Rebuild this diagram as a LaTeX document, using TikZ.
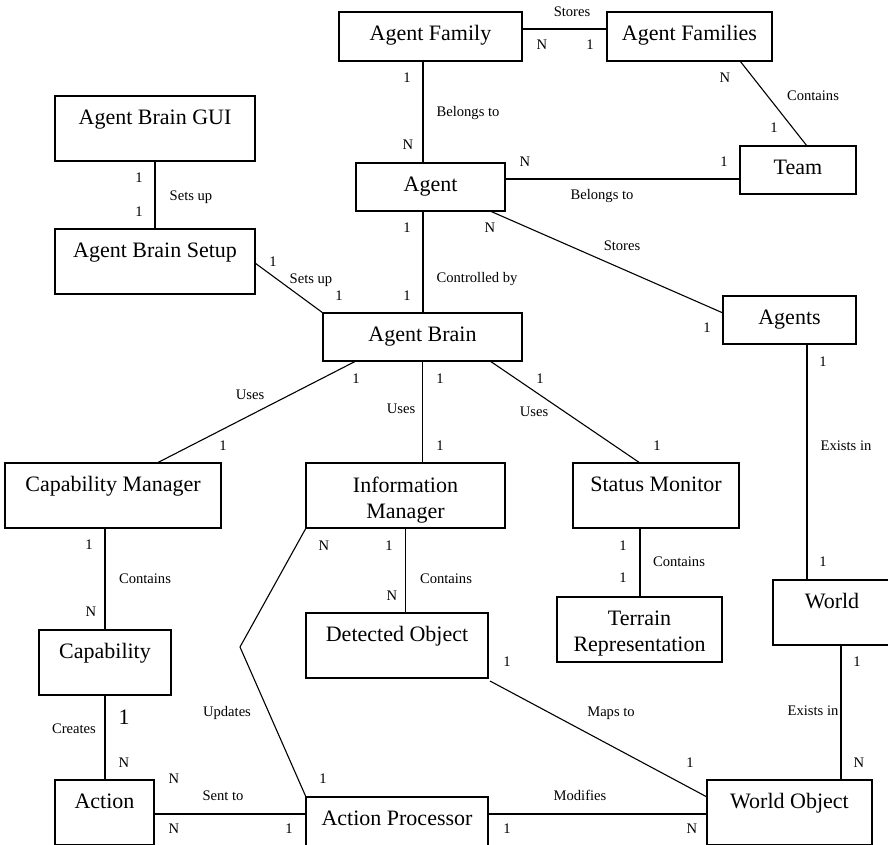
\documentclass[tikz,border=0pt]{standalone}
\usepackage{fontspec}
\setmainfont{Liberation Serif}
\begin{document}
\begin{tikzpicture}[x=1pt,y=-1pt,
  entity/.style={draw, line width=1.1pt, rectangle, anchor=north west,
                 inner sep=0pt, outer sep=0pt},
  etext/.style={anchor=base, inner sep=0pt, font=\fontsize{22}{26}\selectfont},
  etexttwo/.style={anchor=north, inner sep=0pt, align=center,
                   font=\fontsize{22}{26}\selectfont},
  conn/.style={line width=1.1pt},
  lbl/.style={inner sep=0pt, text height=9.6pt, text depth=0pt,
              font=\fontsize{14.6}{17}\selectfont},
  biglbl/.style={inner sep=0pt, text height=14.6pt, text depth=0pt,
              font=\fontsize{22}{26}\selectfont}]

\useasboundingbox (0,0) rectangle (888,845);
\fill[white] (0,0) rectangle (888,845);
\clip (0,0) rectangle (888,845);

% ---------- entities ----------
\node[entity, minimum width=183pt, minimum height=49pt] (af)     at (339,12)  {};
\node[entity, minimum width=165pt, minimum height=49pt] (afs)    at (607,12)  {};
\node[entity, minimum width=149pt, minimum height=48pt] (agent)  at (356,163) {};
\node[entity, minimum width=116pt, minimum height=48pt] (team)   at (740,146) {};
\node[entity, minimum width=133pt, minimum height=48pt] (agents) at (723,296) {};
\node[entity, minimum width=200pt, minimum height=65pt] (gui)    at (55,96)   {};
\node[entity, minimum width=200pt, minimum height=65pt] (setup)  at (55,229)  {};
\node[entity, minimum width=199pt, minimum height=48pt] (brain)  at (323,313) {};
\node[entity, minimum width=216pt, minimum height=65pt] (capm)   at (5,463)   {};
\node[entity, minimum width=199pt, minimum height=65pt] (info)   at (306,463) {};
\node[entity, minimum width=166pt, minimum height=65pt] (status) at (573,463) {};
\node[entity, minimum width=132pt, minimum height=65pt] (capab)  at (39,630)  {};
\node[entity, minimum width=182pt, minimum height=65pt] (det)    at (306,613) {};
\node[entity, minimum width=165pt, minimum height=65pt] (terr)   at (557,597) {};
\node[entity, minimum width=118pt, minimum height=65pt] (world)  at (773,580) {};
\node[entity, minimum width=99pt,  minimum height=65pt] (action) at (55,780)  {};
\node[entity, minimum width=182pt, minimum height=49pt] (proc)   at (306,797) {};
\node[entity, minimum width=165pt, minimum height=65pt] (wobj)   at (707,780) {};

% ---------- entity names ----------
\node[etext] at ([yshift=-28.5pt]af.north)     {Agent Family};
\node[etext] at ([yshift=-28.5pt]afs.north)    {Agent Families};
\node[etext] at ([yshift=-28.5pt]agent.north)  {Agent};
\node[etext] at ([yshift=-28.5pt]team.north)   {Team};
\node[etext] at ([yshift=-28.5pt]agents.north) {Agents};
\node[etext] at ([yshift=-28.5pt]gui.north)    {Agent Brain GUI};
\node[etext] at ([yshift=-28.5pt]setup.north)  {Agent Brain Setup};
\node[etext] at ([yshift=-28.5pt]brain.north)  {Agent Brain};
\node[etext] at ([yshift=-28.5pt]capm.north)   {Capability Manager};
\node[etexttwo] at ([yshift=-13.5pt]info.north) {Information\\Manager};
\node[etext] at ([yshift=-28.5pt]status.north) {Status Monitor};
\node[etext] at ([yshift=-28.5pt]capab.north)  {Capability};
\node[etext] at ([yshift=-28.5pt]det.north)    {Detected Object};
\node[etexttwo] at ([yshift=-13.5pt]terr.north) {Terrain\\Representation};
\node[etext] at ([yshift=-28.5pt]world.north)  {World};
\node[etext] at ([yshift=-28.5pt]action.north) {Action};
\node[etext] at ([yshift=-28.5pt]proc.north)   {Action Processor};
\node[etext] at ([yshift=-28.5pt]wobj.north)   {World Object};

% ---------- relationships ----------
\draw[conn] ([yshift=-17pt]af.north east) -- ([yshift=-17pt]af.north east -| afs.west);
\draw[conn] ([xshift=84pt]af.south west) -- ([xshift=84pt]af.south west |- agent.north);
\draw[conn] ([xshift=133pt]afs.south west) -- ([xshift=67pt]team.north west);
\draw[conn] ([yshift=-16pt]agent.north east) -- ([yshift=-16pt]agent.north east -| team.west);
\draw[conn] ([xshift=-15pt]agent.south east) -- ([yshift=-17pt]agents.north west);
\draw[conn] ([xshift=67pt]agent.south west) -- ([xshift=67pt]agent.south west |- brain.north);
\draw[conn] (gui.south) -- (gui.south |- setup.north);
\draw[conn] ([yshift=-34pt]setup.north east) -- (brain.north west);
\draw[conn] ([xshift=33pt]brain.south west) -- ([xshift=152pt]capm.north west);
\draw[conn] (brain.south) -- (brain.south |- info.north);
\draw[conn] ([xshift=167pt]brain.south west) -- ([xshift=67pt]status.north west);
\draw[conn] ([xshift=67pt]status.south west) -- ([xshift=67pt]status.south west |- terr.north);
\draw[conn] (info.south) -- (info.south |- det.north);
\coordinate (upbend) at (240,647);
\draw[conn] (info.south west) -- (upbend) -- (proc.north west);
\draw[conn] (capab.north) -- (capab.north |- capm.south);
\draw[conn] (capab.south) -- (capab.south |- action.north);
\draw[conn] ([yshift=-34pt]action.north east) -- ([yshift=-34pt]action.north east -| proc.west);
\draw[conn] ([yshift=-17pt]proc.north east) -- ([yshift=-17pt]proc.north east -| wobj.west);
\draw[conn] ([xshift=2pt,yshift=-3pt]det.south east) -- ([yshift=-17pt]wobj.north west);
\draw[conn] ([xshift=68pt]world.south west) -- ([xshift=68pt]world.south west |- wobj.north);
\draw[conn] ([xshift=84pt]agents.south west) -- ([xshift=84pt]agents.south west |- world.north);

% ---------- relationship names and cardinalities ----------
\node[lbl] at (572,12)  {Stores};
\node[lbl] at (542,45)  {N};
\node[lbl] at (590,45)  {1};
\node[lbl] at (407,78)  {1};
\node[lbl] at (468,112) {Belongs to};
\node[lbl] at (408,145) {N};
\node[lbl] at (725,78)  {N};
\node[lbl] at (813,96)  {Contains};
\node[lbl] at (774,128) {1};
\node[lbl] at (525,162) {N};
\node[lbl] at (724,162) {1};
\node[lbl] at (602,195) {Belongs to};
\node[lbl] at (490,228) {N};
\node[lbl] at (622,246) {Stores};
\node[lbl] at (707,328) {1};
\node[lbl] at (407,228) {1};
\node[lbl] at (477,278) {Controlled by};
\node[lbl] at (407,296) {1};
\node[lbl] at (139,178) {1};
\node[lbl] at (191,196) {Sets up};
\node[lbl] at (139,212) {1};
\node[lbl] at (273,262) {1};
\node[lbl] at (311,279) {Sets up};
\node[lbl] at (339,296) {1};
\node[lbl] at (356,379) {1};
\node[lbl] at (250,395) {Uses};
\node[lbl] at (223,446) {1};
\node[lbl] at (440,379) {1};
\node[lbl] at (401,409) {Uses};
\node[lbl] at (440,446) {1};
\node[lbl] at (540,379) {1};
\node[lbl] at (534,412) {Uses};
\node[lbl] at (657,446) {1};
\node[lbl] at (623,546) {1};
\node[lbl] at (679,562) {Contains};
\node[lbl] at (623,578) {1};
\node[lbl] at (324,546) {N};
\node[lbl] at (389,546) {1};
\node[lbl] at (446,579) {Contains};
\node[lbl] at (392,596) {N};
\node[lbl] at (89,545)  {1};
\node[lbl] at (145,579) {Contains};
\node[lbl] at (91,612)  {N};
\node[biglbl] at (124,717) {1};
\node[lbl] at (74,729)  {Creates};
\node[lbl] at (124,763) {N};
\node[lbl] at (227,712) {Updates};
\node[lbl] at (323,779) {1};
\node[lbl] at (174,779) {N};
\node[lbl] at (223,796) {Sent to};
\node[lbl] at (174,829) {N};
\node[lbl] at (289,829) {1};
\node[lbl] at (580,796) {Modifies};
\node[lbl] at (507,829) {1};
\node[lbl] at (692,829) {N};
\node[lbl] at (507,662) {1};
\node[lbl] at (611,712) {Maps to};
\node[lbl] at (690,763) {1};
\node[lbl] at (857,662) {1};
\node[lbl] at (813,711) {Exists in};
\node[lbl] at (859,763) {N};
\node[lbl] at (823,362) {1};
\node[lbl] at (846,446) {Exists in};
\node[lbl] at (823,562) {1};
\end{tikzpicture}
\end{document}
